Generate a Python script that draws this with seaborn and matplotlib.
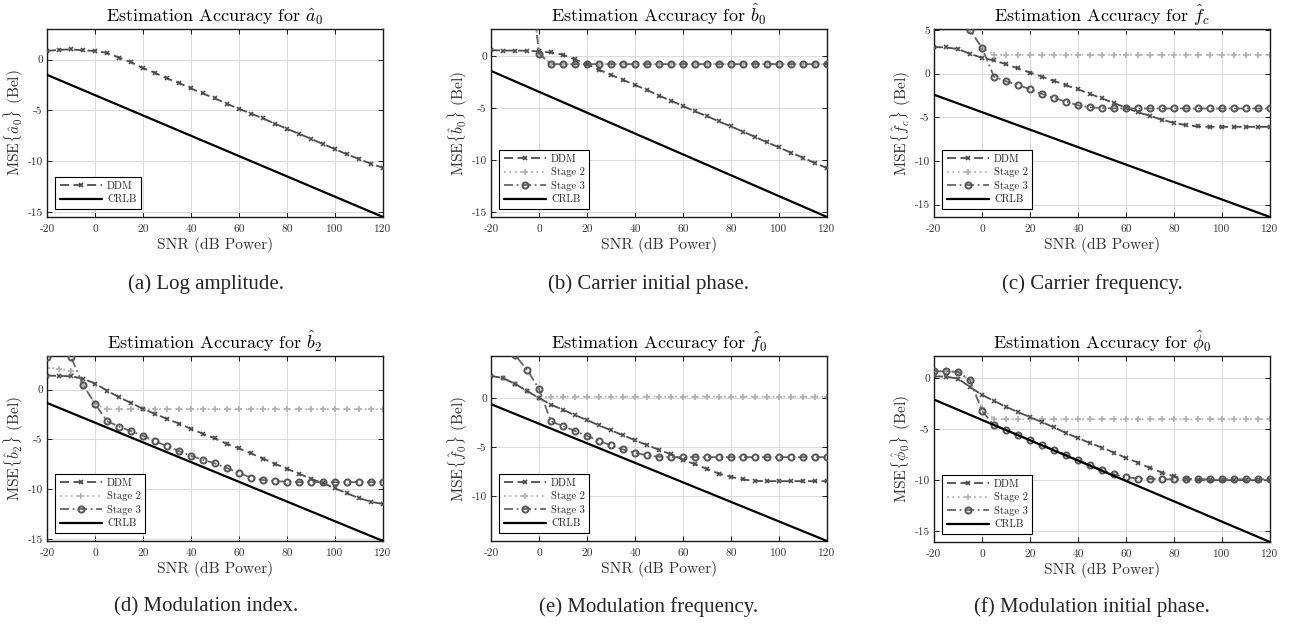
import matplotlib
matplotlib.use("Agg")
import matplotlib.pyplot as plt
from matplotlib.ticker import MultipleLocator, FuncFormatter
import seaborn as sns

# SNR grid (dB power)
snr = [-20, -15, -10, -5, 0, 5, 10, 15, 20, 25, 30, 35, 40, 45, 50,
       55, 60, 65, 70, 75, 80, 85, 90, 95, 100, 105, 110, 115, 120]
crlb_snr = [-20, 120]

# (a) log amplitude
ddm_a = [0.85, 0.95, 1.0, 0.9, 0.85, 0.65, 0.2, -0.26, -0.85, -1.3, -1.86, -2.3, -2.84, -3.33, -3.82,
         -4.35, -4.84, -5.3, -5.78, -6.3, -6.8, -7.29, -7.78, -8.3, -8.79, -9.31, -9.77, -10.23, -10.62]
crlb_a = [-1.5, -15.46]

# (b) carrier initial phase
ddm_b = [0.55, 0.5, 0.5, 0.48, 0.42, 0.32, 0.1, -0.35, -0.8, -1.35, -1.83, -2.31, -2.8, -3.28, -3.83,
         -4.3, -4.82, -5.33, -5.79, -6.3, -6.78, -7.27, -7.78, -8.3, -8.78, -9.3, -9.77, -10.29, -10.77]
stage2_b = [12.5, 12.2, 11.8, 10.9, 0.22, -0.8, -0.8, -0.8, -0.8, -0.8, -0.8, -0.8, -0.8, -0.8, -0.8,
            -0.8, -0.8, -0.8, -0.8, -0.8, -0.8, -0.8, -0.8, -0.8, -0.8, -0.8, -0.8, -0.8, -0.8]
stage3_b = [12.5, 12.2, 11.8, 10.9, 0.22, -0.8, -0.8, -0.8, -0.8, -0.8, -0.8, -0.8, -0.8, -0.8, -0.8,
            -0.8, -0.8, -0.8, -0.8, -0.8, -0.8, -0.8, -0.8, -0.8, -0.8, -0.8, -0.8, -0.8, -0.8]
crlb_b = [-1.45, -15.46]

# (c) carrier frequency
ddm_c = [3.03, 3.0, 2.8, 2.26, 1.8, 1.5, 1.07, 0.58, 0.12, -0.35, -0.84, -1.34, -1.8, -2.34, -2.84,
         -3.38, -3.91, -4.45, -4.83, -5.3, -5.64, -5.91, -6.06, -6.1, -6.1, -6.1, -6.1, -6.1, -6.1]
stage2_c = [8.0, 7.4, 6.4, 5.0, 2.92, 2.15, 2.15, 2.15, 2.15, 2.15, 2.15, 2.15, 2.15, 2.15, 2.15,
            2.15, 2.15, 2.15, 2.15, 2.15, 2.15, 2.15, 2.15, 2.15, 2.15, 2.15, 2.15, 2.15, 2.15]
stage3_c = [8.0, 7.4, 6.4, 5.0, 2.92, -0.35, -0.88, -1.3, -1.8, -2.34, -2.8, -3.22, -3.64, -3.87, -3.95,
            -3.99, -4.0, -4.0, -4.0, -4.0, -4.0, -4.0, -4.0, -4.0, -4.0, -4.0, -4.0, -4.0, -4.0]
crlb_c = [-2.42, -16.42]

# (d) modulation index
ddm_d = [1.4, 1.37, 1.34, 1.1, 0.6, -0.1, -0.77, -1.34, -1.94, -2.44, -2.94, -3.41, -3.94, -4.44, -4.91,
         -5.45, -5.91, -6.41, -6.92, -7.45, -7.95, -8.45, -8.95, -9.39, -9.92, -10.42, -10.89, -11.26, -11.49]
stage2_d = [2.2, 2.1, 1.85, 0.47, -1.4, -1.97, -1.97, -1.97, -1.97, -1.97, -1.97, -1.97, -1.97, -1.97, -1.97,
            -1.97, -1.97, -1.97, -1.97, -1.97, -1.97, -1.97, -1.97, -1.97, -1.97, -1.97, -1.97, -1.97, -1.97]
stage3_d = [3.27, 4.5, 3.27, 0.47, -1.4, -3.17, -3.71, -4.18, -4.64, -5.18, -5.68, -6.18, -6.65, -7.05, -7.42,
            -7.89, -8.35, -8.85, -9.09, -9.19, -9.25, -9.29, -9.29, -9.29, -9.29, -9.29, -9.29, -9.29, -9.29]
crlb_d = [-1.34, -15.2]

# (e) modulation frequency
ddm_e = [2.29, 2.05, 1.48, 0.74, 0.03, -0.64, -1.18, -1.72, -2.22, -2.76, -3.27, -3.77, -4.28, -4.78, -5.25,
         -5.72, -6.26, -6.73, -7.2, -7.68, -8.01, -8.28, -8.42, -8.45, -8.45, -8.45, -8.45, -8.45, -8.45]
stage2_e = [2.29, 2.05, 1.48, 0.74, 0.03, 0.17, 0.17, 0.17, 0.17, 0.17, 0.17, 0.17, 0.17, 0.17, 0.17,
            0.17, 0.17, 0.17, 0.17, 0.17, 0.17, 0.17, 0.17, 0.17, 0.17, 0.17, 0.17, 0.17, 0.17]
stage3_e = [6.5, 5.4, 4.4, 2.93, 0.94, -2.36, -2.83, -3.33, -3.84, -4.34, -4.81, -5.22, -5.56, -5.82, -5.96,
            -6.0, -6.0, -6.0, -6.0, -6.0, -6.0, -6.0, -6.0, -6.0, -6.0, -6.0, -6.0, -6.0, -6.0]
crlb_e = [-0.6, -14.55]

# (f) modulation initial phase
ddm_f = [0.16, 0.13, -0.07, -0.88, -1.66, -2.25, -2.83, -3.35, -3.84, -4.33, -4.85, -5.4, -5.89, -6.38, -6.83,
         -7.32, -7.84, -8.3, -8.82, -9.27, -9.66, -9.89, -9.99, -10.02, -10.02, -10.02, -10.02, -10.02, -10.02]
stage2_f = [0.65, 0.65, 0.59, -0.23, -2.9, -4.05, -4.05, -4.05, -4.05, -4.05, -4.05, -4.05, -4.05, -4.05, -4.05,
            -4.05, -4.05, -4.05, -4.05, -4.05, -4.05, -4.05, -4.05, -4.05, -4.05, -4.05, -4.05, -4.05, -4.05]
stage3_f = [0.65, 0.65, 0.59, -0.23, -3.22, -4.62, -5.11, -5.6, -6.09, -6.57, -7.06, -7.52, -8.04, -8.53, -9.01,
            -9.44, -9.73, -9.86, -9.9, -9.93, -9.93, -9.93, -9.93, -9.93, -9.93, -9.93, -9.93, -9.93, -9.93]
crlb_f = [-2.12, -16.08]

symbols = [r"\hat{a}_0", r"\hat{b}_0", r"\hat{f}_c", r"\hat{b}_2", r"\hat{f}_0", r"\hat{\phi}_0"]
captions = ["(a) Log amplitude.", "(b) Carrier initial phase.", "(c) Carrier frequency.",
            "(d) Modulation index.", "(e) Modulation frequency.", "(f) Modulation initial phase."]

sns.set_theme(style="whitegrid")
plt.rcParams.update({
    "font.family": "cmr10",
    "mathtext.fontset": "cm",
    "axes.unicode_minus": False,
    "axes.edgecolor": "#1a1a1a",
    "axes.linewidth": 1.0,
    "grid.color": "#dcdcdc",
    "grid.linewidth": 0.8,
})

fig = plt.figure(figsize=(12.92, 6.24), dpi=100)
W, H = 1292.0, 624.0

# axes boxes in pixels: left, top, right, bottom
boxes = [(47, 29, 383, 217), (491, 29, 827, 217), (934, 29, 1270, 217),
         (47, 356, 383, 541), (491, 356, 827, 541), (934, 356, 1270, 542)]
cap_x = [206, 649, 1092, 206, 649, 1092]
cap_y = [284, 284, 284, 607, 607, 607]

panels = [
    (ddm_a, None, None, crlb_a, (-15.46, 3.0)),
    (ddm_b, stage2_b, stage3_b, crlb_b, (-15.46, 2.57)),
    (ddm_c, stage2_c, stage3_c, crlb_c, (-16.42, 5.1)),
    (ddm_d, stage2_d, stage3_d, crlb_d, (-15.2, 3.37)),
    (ddm_e, stage2_e, stage3_e, crlb_e, (-14.55, 4.31)),
    (ddm_f, stage2_f, stage3_f, crlb_f, (-16.08, 2.15)),
]

hyphen_fmt = FuncFormatter(lambda v, p: "%g" % v)

for i, (ddm, st2, st3, crlb, ylim) in enumerate(panels):
    l, t, r, b = boxes[i]
    ax = fig.add_axes([l / W, 1 - b / H, (r - l) / W, (b - t) / H])

    sns.lineplot(x=snr, y=ddm, ax=ax, color="#4d4d4d", linestyle=(0, (5, 2.5)), linewidth=1.3,
                 marker="x", markersize=3.2, markeredgewidth=1.2, markeredgecolor="#4d4d4d",
                 label="DDM", zorder=3)
    if st2 is not None:
        sns.lineplot(x=snr, y=st2, ax=ax, color="#b3b3b3", linestyle=(0, (1, 2)), linewidth=1.3,
                     marker="+", markersize=4, markeredgewidth=1.3, markeredgecolor="#b3b3b3",
                     label="Stage 2", zorder=2)
        sns.lineplot(x=snr, y=st3, ax=ax, color="#666666", linestyle=(0, (5, 2, 1, 2)), linewidth=1.3,
                     marker="o", markersize=4.4, markeredgewidth=1.4, markeredgecolor="#555555",
                     markerfacecolor="none", label="Stage 3", zorder=4)
    sns.lineplot(x=crlb_snr, y=crlb, ax=ax, color="black", linewidth=1.6, label="CRLB", zorder=5)

    ax.set_xlim(-20, 120)
    ax.set_ylim(*ylim)
    ax.xaxis.set_major_locator(MultipleLocator(20))
    ax.yaxis.set_major_locator(MultipleLocator(5))
    ax.xaxis.set_major_formatter(hyphen_fmt)
    ax.yaxis.set_major_formatter(hyphen_fmt)
    ax.tick_params(direction="in", length=3.5, width=0.7, color="#1a1a1a", labelsize=8.2,
                   labelcolor="#333333", top=True, right=True, bottom=True, left=True)
    ax.tick_params(axis="x", pad=5.5)
    ax.tick_params(axis="y", pad=3)
    ax.grid(True, color="#dcdcdc", linewidth=0.8)
    for s in ax.spines.values():
        s.set_visible(True)
        s.set_color("#1a1a1a")
        s.set_linewidth(1.0)

    sym = symbols[i]
    ax.set_title("Estimation Accuracy for $" + sym + "$", fontsize=13, color="black", pad=5)
    ax.set_xlabel("SNR (dB Power)", fontsize=11.2, color="#333333", labelpad=2)
    ax.set_ylabel("MSE$\\{" + sym + "\\}$ (Bel)", fontsize=11.2, color="#333333")
    ax.yaxis.set_label_coords(-0.063, 0.5)

    leg = ax.legend(loc="lower left", fontsize=7.6, frameon=True, fancybox=False, edgecolor="black",
                    framealpha=1, handlelength=4.0, handletextpad=0.5, labelspacing=0.35,
                    borderpad=0.4, borderaxespad=0.8)
    leg.get_frame().set_linewidth(0.8)

    fig.text(cap_x[i] / W, 1 - cap_y[i] / H, captions[i], ha="center", va="center",
             fontsize=15, family="Liberation Serif")

fig.savefig("out.png", dpi=100)
